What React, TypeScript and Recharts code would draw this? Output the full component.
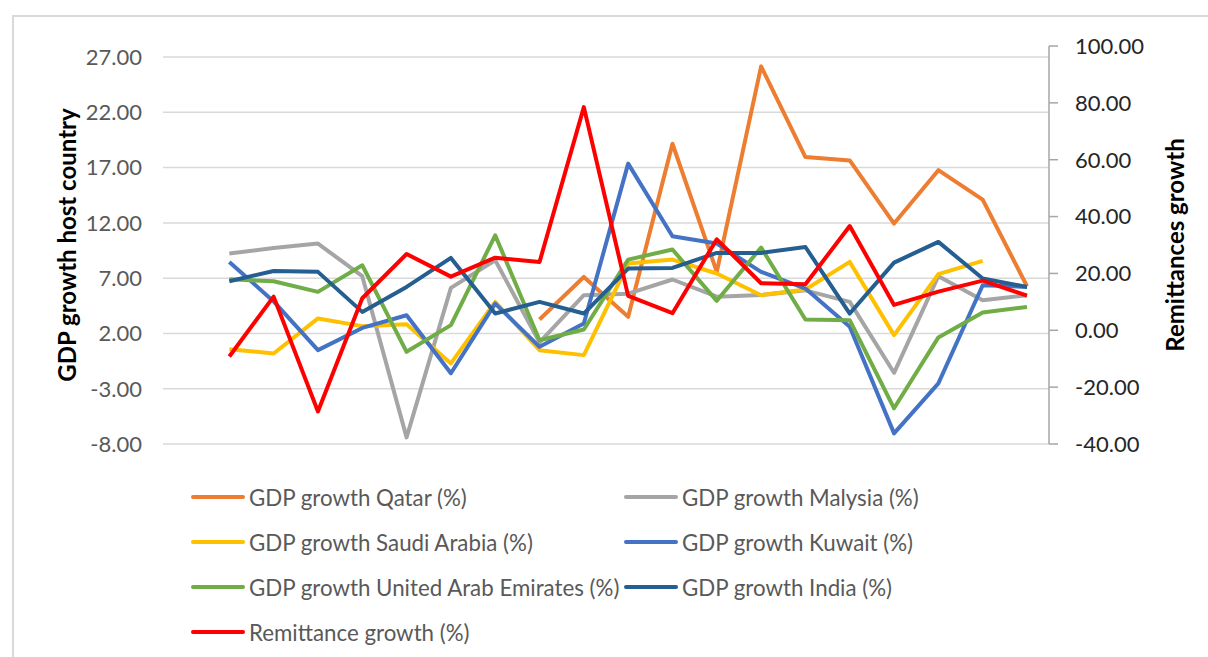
import React from 'react';
import { LineChart, Line, XAxis, YAxis, ReferenceLine, Label } from 'recharts';

// categories (first slot is empty in the source sheet)
const years = ['', '1994', '1995', '1996', '1997', '1998', '1999', '2000', '2001', '2002', '2003',
  '2004', '2005', '2006', '2007', '2008', '2009', '2010', '2011', '2012'];

const qatar = [null, null, null, null, null, null, null, null, 3.26, 7.11, 3.5, 19.16, 7.57, 26.16, 17.95, 17.65, 11.94, 16.77, 14.1, 6.27];
const malaysia = [null, 9.23, 9.73, 10.13, 7.18, -7.4, 6.12, 8.62, 1.2, 5.46, 5.6, 6.88, 5.33, 5.48, 5.9, 4.86, -1.56, 7.18, 5.0, 5.46];
const saudi = [null, 0.58, 0.19, 3.36, 2.66, 2.84, -0.71, 4.86, 0.49, 0.04, 8.32, 8.68, 7.42, 5.46, 5.97, 8.47, 1.85, 7.36, 8.56, null];
const kuwait = [null, 8.47, 4.9, 0.49, 2.5, 3.65, -1.6, 4.7, 0.79, 2.9, 17.36, 10.79, 10.13, 7.57, 6.06, 2.6, -7.04, -2.52, 6.36, 6.21];
const uae = [null, 6.9, 6.72, 5.76, 8.17, 0.34, 2.75, 10.88, 1.39, 2.36, 8.68, 9.59, 4.95, 9.77, 3.26, 3.2, -4.77, 1.64, 3.9, 4.4];
const india = [null, 6.72, 7.65, 7.57, 3.95, 6.21, 8.83, 3.8, 4.86, 3.8, 7.87, 7.93, 9.28, 9.28, 9.82, 3.8, 8.41, 10.28, 6.97, 6.21];
const remittance = [null, -9.23, 11.84, -28.55, 11.28, 26.84, 18.87, 25.54, 24.0, 78.5, 12.09, 6.0, 32.0, 16.55, 16.2, 36.68, 8.93, 13.6, 17.47, 12.2];

const leftTicks = [-8, -3, 2, 7, 12, 17, 22, 27];
const rightTicks = [-40, -20, 0, 20, 40, 60, 80, 100];

const series = [
  { key: 'qatar', name: 'GDP growth Qatar (%)', color: '#ED7D31', axis: 'left', values: qatar },
  { key: 'malaysia', name: 'GDP growth Malysia (%)', color: '#A5A5A5', axis: 'left', values: malaysia },
  { key: 'saudi', name: 'GDP growth Saudi Arabia (%)', color: '#FFC000', axis: 'left', values: saudi },
  { key: 'kuwait', name: 'GDP growth Kuwait (%)', color: '#4472C4', axis: 'left', values: kuwait },
  { key: 'uae', name: 'GDP growth United Arab Emirates (%)', color: '#70AD47', axis: 'left', values: uae },
  { key: 'india', name: 'GDP growth India (%)', color: '#255E91', axis: 'left', values: india },
  { key: 'remit', name: 'Remittance growth (%)', color: '#FF0000', axis: 'right', values: remittance },
];

const data = years.map((year, i) => {
  const row: Record<string, any> = { year };
  series.forEach((s) => { row[s.key] = s.values[i]; });
  return row;
});

const FONT = 'Lato, "Open Sans", sans-serif';
const fmt = (v: number) => v.toFixed(2);

const axisTitle = (text: string, dx: number) => ({ viewBox }: any) => {
  const cx = viewBox.x + dx;
  const cy = viewBox.y + viewBox.height / 2;
  return (
    <text x={cx} y={cy} transform={`rotate(-90, ${cx}, ${cy})`} textAnchor="middle" dominantBaseline="central"
      style={{ fontFamily: FONT, fontWeight: 700, fontSize: 24, fill: '#000' }}>
      {text}
    </text>
  );
};

const App = () => {
  return (
    <div style={{ position: 'fixed', left: 0, top: 0, width: 1208, height: 657, overflow: 'hidden', background: '#fff', fontFamily: FONT }}>
      <div style={{ position: 'absolute', left: 12, top: 15, width: 1400, height: 900, border: '2px solid #d9d9d9' }} />
      <div style={{ position: 'absolute', left: 0, top: 0 }}>
        <LineChart width={1208} height={460} data={data} margin={{ top: 46, right: 0, bottom: 16, left: 0 }}>
          <XAxis dataKey="year" hide height={0} padding={{ left: 22, right: 22 }} />
          <YAxis
            yAxisId="left"
            width={163}
            domain={[-8, 28]}
            ticks={leftTicks}
            interval={0}
            tickFormatter={fmt}
            axisLine={false}
            tickLine={false}
            tickSize={6}
            tickMargin={15}
            tick={{ fill: '#595959', fontSize: 22, fontFamily: FONT }}
          >
            <Label content={axisTitle('GDP growth host country', 66)} />
          </YAxis>
          <YAxis
            yAxisId="right"
            orientation="right"
            width={159}
            domain={[-40, 100]}
            ticks={rightTicks}
            interval={0}
            tickFormatter={fmt}
            axisLine={{ stroke: '#a6a6a6', strokeWidth: 1.5 }}
            tickLine={{ stroke: '#a6a6a6', strokeWidth: 1.5 }}
            tickSize={9}
            tickMargin={17}
            tick={{ fill: '#262626', fontSize: 22, fontFamily: FONT }}
          >
            <Label content={axisTitle('Remittances growth', 125)} />
          </YAxis>
          {/* horizontal gridlines on the left-axis ticks only */}
          {leftTicks.map((t) => (
            <ReferenceLine key={t} yAxisId="left" y={t} stroke="#d9d9d9" strokeWidth={1.5} />
          ))}
          {series.map((s) => (
            <Line
              key={s.key}
              yAxisId={s.axis}
              dataKey={s.key}
              name={s.name}
              stroke={s.color}
              strokeWidth={4}
              strokeLinejoin="round"
              dot={false}
              activeDot={false}
              isAnimationActive={false}
            />
          ))}
        </LineChart>
      </div>
      {series.map((s, i) => {
        const col = i % 2;
        const row = Math.floor(i / 2);
        const left = col === 0 ? 191 : 624;
        const top = 497 + row * 45;
        return (
          <div key={s.key} style={{ position: 'absolute', left, top: top - 16, height: 32, display: 'flex', alignItems: 'center', whiteSpace: 'nowrap' }}>
            <div style={{ width: 54, height: 4, background: s.color, borderRadius: 2 }} />
            <span style={{ marginLeft: 4, fontSize: 22.3, color: '#595959' }}>{s.name}</span>
          </div>
        );
      })}
    </div>
  );
};

export default App;
